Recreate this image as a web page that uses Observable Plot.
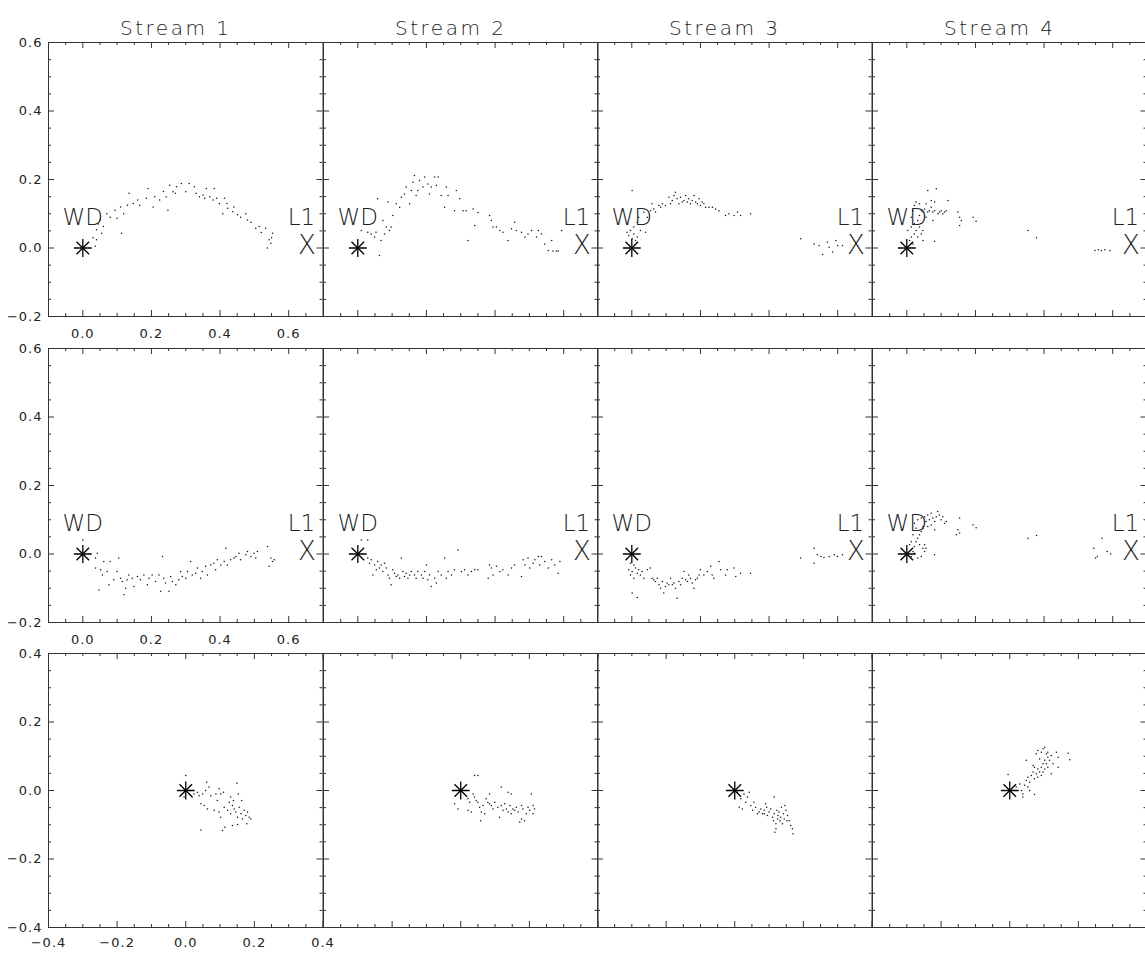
<!DOCTYPE html>
<html><head><meta charset="utf-8">
<script src="https://cdn.jsdelivr.net/npm/d3@7"></script>
<script src="https://cdn.jsdelivr.net/npm/@observablehq/plot@0.6"></script>
<style>
html,body{margin:0;padding:0;background:#fff;}
#chart{position:relative;width:1145px;height:955px;overflow:hidden;background:#fff;}
#chart svg{position:absolute;overflow:visible;}
</style></head><body><div id="chart"></div>
<script>
// ---------- data ----------
const streamTitles = ["Stream 1", "Stream 2", "Stream 3", "Stream 4"];

// Row A (orbital plane view, WD at origin, L1 to the right)
const s1_rowA = [[0.036,0.005],[0.04,0.024],[0.04,0.053],[0.05,0.082],[0.055,0.043],[0.06,0.063],[0.07,0.10],[0.094,0.11],[0.10,0.087],[0.113,0.043],[0.119,0.10],[0.13,0.125],[0.135,0.16],[0.147,0.13],[0.166,0.125],[0.185,0.145],[0.19,0.174],[0.205,0.12],[0.224,0.14],[0.243,0.15],[0.248,0.11],[0.253,0.183],[0.263,0.164],[0.273,0.179],[0.287,0.188],[0.30,0.164],[0.31,0.188],[0.325,0.179],[0.34,0.15],[0.355,0.145],[0.36,0.174],[0.38,0.14],[0.383,0.174],[0.398,0.13],[0.413,0.145],[0.408,0.10],[0.422,0.116],[0.437,0.106],[0.451,0.097],[0.475,0.10],[0.48,0.082],[0.504,0.058],[0.514,0.063],[0.533,0.058],[0.538,0.0],[0.543,0.024],[0.548,0.014],[0.553,0.043],[0.03,0.03],[0.045,0.07],[0.08,0.09],[0.11,0.12],[0.16,0.14],[0.21,0.15],[0.235,0.165],[0.27,0.16],[0.33,0.16],[0.35,0.155],[0.37,0.15],[0.39,0.145],[0.42,0.13],[0.44,0.12],[0.46,0.09],[0.49,0.075],[0.52,0.045],[0.55,0.03]];
const s2_rowA = [[0.01,0.051],[0.029,0.046],[0.039,0.041],[0.049,0.032],[0.053,0.046],[0.063,-0.022],[0.068,0.022],[0.073,0.080],[0.078,0.041],[0.083,0.061],[0.092,0.051],[0.097,0.061],[0.102,0.095],[0.058,0.144],[0.088,0.134],[0.112,0.129],[0.122,0.119],[0.127,0.148],[0.136,0.158],[0.141,0.178],[0.151,0.129],[0.156,0.168],[0.161,0.192],[0.165,0.212],[0.170,0.153],[0.175,0.168],[0.180,0.197],[0.190,0.178],[0.195,0.207],[0.204,0.187],[0.209,0.158],[0.214,0.178],[0.224,0.207],[0.234,0.207],[0.229,0.183],[0.243,0.153],[0.253,0.119],[0.258,0.178],[0.263,0.153],[0.282,0.109],[0.287,0.168],[0.297,0.144],[0.307,0.109],[0.316,0.109],[0.321,0.022],[0.336,0.114],[0.341,0.066],[0.350,0.104],[0.384,0.095],[0.389,0.080],[0.394,0.061],[0.404,0.061],[0.414,0.051],[0.423,0.046],[0.438,0.022],[0.448,0.056],[0.457,0.075],[0.462,0.051],[0.477,0.046],[0.487,0.032],[0.496,0.041],[0.506,0.051],[0.521,0.032],[0.526,0.051],[0.535,0.041],[0.545,0.012],[0.555,-0.007],[0.565,0.022],[0.569,-0.009],[0.579,-0.009],[0.584,-0.009],[0.594,0.051]];
const s3_rowA = [[-0.014,0.046],[-0.009,0.036],[-0.004,0.051],[0.001,0.027],[0.006,0.041],[0.011,0.022],[0.016,0.032],[0.006,0.061],[0.016,0.075],[0.020,0.090],[0.025,0.051],[0.040,0.046],[0.001,0.168],[0.035,0.105],[0.045,0.090],[0.055,0.109],[0.059,0.129],[0.064,0.114],[0.069,0.105],[0.079,0.124],[0.084,0.119],[0.089,0.129],[0.098,0.124],[0.108,0.148],[0.113,0.129],[0.118,0.139],[0.123,0.153],[0.127,0.163],[0.132,0.144],[0.137,0.129],[0.142,0.148],[0.147,0.134],[0.152,0.139],[0.157,0.153],[0.162,0.134],[0.166,0.144],[0.171,0.129],[0.176,0.139],[0.181,0.153],[0.186,0.134],[0.191,0.129],[0.196,0.144],[0.200,0.124],[0.205,0.134],[0.210,0.129],[0.215,0.119],[0.225,0.119],[0.235,0.119],[0.244,0.114],[0.254,0.109],[0.273,0.095],[0.283,0.100],[0.298,0.095],[0.308,0.105],[0.317,0.095],[0.346,0.100],[0.492,0.027],[0.531,0.012],[0.546,0.007],[0.556,-0.019],[0.570,0.017],[0.575,0.002],[0.585,-0.012],[0.595,0.022],[0.600,0.007],[0.614,0.007]];
const s4_rowA = [[0.008,0.022],[0.013,0.032],[0.018,0.012],[0.022,0.041],[0.027,0.051],[0.032,0.032],[0.037,0.061],[0.042,0.041],[0.047,0.022],[0.022,0.071],[0.032,0.080],[0.013,0.090],[0.018,0.109],[0.022,0.124],[0.027,0.134],[0.037,0.129],[0.042,0.109],[0.047,0.105],[0.052,0.114],[0.056,0.129],[0.061,0.105],[0.066,0.109],[0.071,0.119],[0.076,0.105],[0.081,0.109],[0.086,0.173],[0.091,0.100],[0.095,0.105],[0.100,0.109],[0.105,0.100],[0.110,0.105],[0.115,0.109],[0.120,0.139],[0.061,0.168],[0.071,0.139],[0.081,0.134],[0.056,0.090],[0.076,0.080],[0.081,0.020],[0.047,0.051],[0.037,0.095],[0.013,0.061],[0.003,0.051],[0.149,0.105],[0.154,0.090],[0.154,0.066],[0.159,0.080],[0.193,0.090],[0.202,0.078],[0.353,0.051],[0.378,0.030],[0.548,-0.007],[0.558,-0.005],[0.567,-0.007],[0.577,-0.005],[0.592,-0.007]];

// Row B (second projection, WD at origin, L1 to the right)
const s1_rowB = [[0.0,0.041],[0.037,-0.012],[0.042,0.002],[0.037,-0.041],[0.047,-0.105],[0.052,-0.046],[0.057,-0.061],[0.061,-0.022],[0.071,-0.051],[0.076,-0.090],[0.080,-0.022],[0.090,-0.075],[0.100,-0.051],[0.105,-0.012],[0.110,-0.071],[0.115,-0.080],[0.120,-0.119],[0.125,-0.100],[0.129,-0.075],[0.134,-0.061],[0.144,-0.071],[0.149,-0.095],[0.159,-0.066],[0.168,-0.075],[0.178,-0.061],[0.188,-0.090],[0.193,-0.071],[0.202,-0.061],[0.212,-0.080],[0.222,-0.061],[0.227,-0.109],[0.232,-0.007],[0.236,-0.071],[0.241,-0.085],[0.251,-0.109],[0.256,-0.066],[0.261,-0.080],[0.271,-0.090],[0.280,-0.075],[0.285,-0.051],[0.290,-0.066],[0.300,-0.071],[0.305,-0.051],[0.314,-0.022],[0.319,-0.061],[0.329,-0.056],[0.334,-0.041],[0.343,-0.071],[0.348,-0.051],[0.358,-0.036],[0.363,-0.061],[0.373,-0.032],[0.382,-0.027],[0.387,-0.046],[0.392,-0.017],[0.402,-0.032],[0.412,-0.022],[0.417,0.017],[0.421,-0.032],[0.431,-0.017],[0.441,-0.012],[0.446,-0.007],[0.455,0.002],[0.460,-0.017],[0.475,-0.002],[0.480,0.007],[0.490,-0.007],[0.499,0.002],[0.504,-0.012],[0.509,0.007],[0.538,0.022],[0.543,-0.036],[0.548,-0.012],[0.553,-0.022],[0.558,-0.017]];
const s2_rowB = [[0.010,0.041],[0.029,0.041],[0.029,-0.012],[0.034,-0.027],[0.039,-0.017],[0.044,-0.061],[0.049,-0.032],[0.054,-0.046],[0.058,-0.022],[0.063,-0.041],[0.068,-0.032],[0.073,-0.051],[0.078,-0.027],[0.083,-0.041],[0.088,-0.061],[0.092,-0.071],[0.097,-0.090],[0.102,-0.046],[0.107,-0.056],[0.112,-0.066],[0.117,-0.061],[0.122,-0.071],[0.127,-0.012],[0.131,-0.051],[0.136,-0.066],[0.141,-0.056],[0.146,-0.071],[0.151,-0.061],[0.156,-0.051],[0.165,-0.061],[0.170,-0.071],[0.175,-0.051],[0.185,-0.061],[0.190,-0.071],[0.195,-0.051],[0.200,-0.032],[0.204,-0.075],[0.209,-0.061],[0.214,-0.095],[0.224,-0.071],[0.229,-0.085],[0.234,-0.051],[0.243,-0.061],[0.253,-0.012],[0.258,-0.071],[0.263,-0.051],[0.273,-0.061],[0.282,-0.046],[0.292,0.012],[0.302,-0.051],[0.311,-0.046],[0.321,-0.061],[0.331,-0.051],[0.341,-0.046],[0.350,-0.046],[0.380,-0.071],[0.384,-0.032],[0.389,-0.041],[0.394,-0.061],[0.404,-0.036],[0.414,-0.051],[0.423,-0.046],[0.438,-0.061],[0.448,-0.041],[0.457,-0.032],[0.477,-0.066],[0.482,-0.017],[0.487,-0.032],[0.496,-0.012],[0.501,-0.041],[0.511,-0.027],[0.516,-0.017],[0.526,-0.007],[0.530,-0.032],[0.535,-0.007],[0.545,-0.022],[0.555,-0.041],[0.565,-0.017],[0.574,-0.032],[0.584,-0.056],[0.589,-0.022]];
const s3_rowB = [[-0.009,-0.046],[-0.004,-0.061],[0.001,-0.051],[0.006,-0.071],[0.011,-0.041],[0.016,-0.056],[0.020,-0.046],[0.025,-0.061],[0.030,-0.051],[0.035,-0.071],[0.045,-0.046],[0.054,-0.041],[0.059,-0.071],[0.064,-0.075],[0.069,-0.080],[0.074,-0.071],[0.079,-0.090],[0.084,-0.100],[0.089,-0.080],[0.093,-0.114],[0.098,-0.095],[0.103,-0.085],[0.108,-0.090],[0.113,-0.071],[0.118,-0.090],[0.123,-0.085],[0.127,-0.100],[0.132,-0.129],[0.137,-0.080],[0.142,-0.090],[0.147,-0.071],[0.152,-0.051],[0.157,-0.075],[0.162,-0.080],[0.166,-0.061],[0.171,-0.071],[0.176,-0.085],[0.181,-0.100],[0.186,-0.075],[0.191,-0.071],[0.196,-0.061],[0.200,-0.046],[0.210,-0.061],[0.220,-0.051],[0.230,-0.036],[0.234,-0.061],[0.239,-0.071],[0.254,-0.022],[0.259,-0.046],[0.273,-0.061],[0.278,-0.046],[0.298,-0.041],[0.303,-0.066],[0.317,-0.056],[0.346,-0.056],[0.001,-0.114],[0.016,-0.127],[-0.004,-0.027],[0.006,-0.032],[0.492,-0.012],[0.531,0.017],[0.531,-0.027],[0.541,-0.002],[0.551,-0.007],[0.560,-0.010],[0.575,-0.007],[0.590,-0.002],[0.599,-0.007],[0.614,-0.002]];
const s4_rowB = [[0.013,-0.007],[0.018,0.007],[0.022,0.022],[0.027,0.036],[0.032,0.046],[0.037,0.056],[0.042,0.066],[0.047,0.075],[0.037,0.027],[0.047,0.017],[0.052,0.007],[0.042,-0.007],[0.032,-0.012],[0.022,0.002],[0.008,0.027],[0.013,0.036],[0.018,0.056],[0.027,0.075],[0.022,0.090],[0.032,0.100],[0.042,0.105],[0.052,0.109],[0.056,0.095],[0.061,0.114],[0.066,0.100],[0.071,0.119],[0.076,0.105],[0.081,0.095],[0.086,0.109],[0.090,0.124],[0.095,0.114],[0.100,0.100],[0.105,0.109],[0.110,0.090],[0.115,0.095],[0.047,0.080],[0.061,0.080],[0.071,0.085],[0.081,0.071],[0.052,0.027],[0.056,0.017],[0.081,-0.002],[0.154,0.105],[0.149,0.071],[0.154,0.061],[0.144,0.056],[0.193,0.085],[0.202,0.077],[0.353,0.046],[0.378,0.054],[0.545,0.017],[0.550,-0.012],[0.569,0.046],[0.584,0.007],[0.594,0.0],[0.555,-0.007]];

// Row C (third projection, centred on WD)
const s1_rowC = [[0.0,0.044],[-0.005,-0.019],[0.019,-0.019],[0.024,-0.010],[0.034,-0.005],[0.039,-0.015],[0.044,-0.039],[0.044,-0.115],[0.049,-0.010],[0.054,-0.044],[0.058,0.0],[0.061,0.024],[0.063,-0.054],[0.068,0.010],[0.073,-0.015],[0.083,-0.058],[0.088,-0.010],[0.092,-0.029],[0.097,0.005],[0.097,-0.063],[0.102,-0.010],[0.102,-0.078],[0.107,-0.117],[0.110,-0.005],[0.112,-0.049],[0.114,-0.107],[0.122,-0.058],[0.127,-0.034],[0.131,-0.019],[0.131,-0.068],[0.136,-0.044],[0.136,-0.102],[0.139,-0.029],[0.141,-0.054],[0.146,-0.063],[0.149,0.021],[0.151,-0.078],[0.153,-0.010],[0.156,-0.049],[0.161,-0.068],[0.163,-0.029],[0.165,-0.083],[0.170,-0.058],[0.175,-0.073],[0.180,-0.063],[0.185,-0.078],[0.190,-0.083],[0.151,-0.099],[0.178,-0.097]];
const s2_rowC = [[-0.018,-0.039],[-0.008,-0.054],[0.021,-0.024],[0.021,-0.058],[0.026,-0.034],[0.031,-0.063],[0.036,-0.010],[0.040,-0.019],[0.040,0.044],[0.045,-0.029],[0.050,0.044],[0.050,-0.034],[0.055,-0.049],[0.058,-0.088],[0.060,-0.063],[0.065,-0.044],[0.070,-0.068],[0.074,-0.024],[0.079,-0.034],[0.084,-0.010],[0.084,-0.039],[0.089,-0.044],[0.094,-0.054],[0.099,-0.034],[0.108,-0.049],[0.113,-0.078],[0.118,0.010],[0.118,-0.044],[0.123,-0.058],[0.128,-0.039],[0.133,-0.054],[0.138,-0.005],[0.138,-0.063],[0.143,-0.044],[0.147,-0.010],[0.147,-0.068],[0.152,-0.054],[0.157,-0.058],[0.162,-0.049],[0.167,-0.063],[0.172,-0.092],[0.177,-0.044],[0.177,-0.083],[0.181,-0.054],[0.186,-0.088],[0.191,-0.068],[0.196,-0.049],[0.201,-0.058],[0.206,-0.010],[0.211,-0.044],[0.211,-0.068],[0.215,-0.054]];
const s3_rowC = [[0.008,-0.005],[0.018,-0.024],[0.027,-0.010],[0.032,-0.034],[0.037,-0.019],[0.042,-0.005],[0.013,-0.049],[0.022,-0.054],[0.047,-0.044],[0.052,-0.058],[0.056,-0.034],[0.061,-0.049],[0.071,-0.063],[0.076,-0.054],[0.081,-0.068],[0.086,-0.058],[0.090,-0.039],[0.093,-0.049],[0.095,-0.073],[0.100,-0.063],[0.105,-0.054],[0.110,-0.078],[0.113,-0.088],[0.115,-0.019],[0.115,-0.068],[0.117,-0.122],[0.120,-0.097],[0.123,-0.058],[0.125,-0.083],[0.126,-0.073],[0.129,-0.063],[0.132,-0.088],[0.134,-0.078],[0.136,-0.049],[0.139,-0.097],[0.142,-0.068],[0.144,-0.083],[0.146,-0.044],[0.149,-0.058],[0.152,-0.088],[0.154,-0.073],[0.159,-0.088],[0.163,-0.102],[0.168,-0.112],[0.170,-0.126],[0.120,-0.112],[0.086,-0.068],[0.066,-0.068]];
const s4_rowC = [[-0.005,0.047],[0.019,0.010],[0.029,0.019],[0.034,0.0],[0.038,-0.010],[0.038,-0.019],[0.043,0.015],[0.048,0.029],[0.053,0.010],[0.053,0.039],[0.058,0.024],[0.063,0.044],[0.068,0.054],[0.072,0.034],[0.072,-0.012],[0.077,0.049],[0.082,0.063],[0.082,0.039],[0.087,0.054],[0.092,0.068],[0.092,0.044],[0.097,0.078],[0.097,0.054],[0.102,0.088],[0.102,0.063],[0.107,0.107],[0.107,0.078],[0.111,0.097],[0.111,0.068],[0.116,0.088],[0.121,0.102],[0.121,0.049],[0.126,0.078],[0.077,0.107],[0.082,0.117],[0.092,0.112],[0.097,0.122],[0.102,0.126],[0.136,0.112],[0.141,0.097],[0.141,0.068],[0.048,0.088],[0.068,0.073],[0.170,0.109],[0.175,0.090],[0.058,0.0],[0.072,0.068],[0.087,0.092],[0.111,0.112]];

const panelData = [
  [s1_rowA, s2_rowA, s3_rowA, s4_rowA],
  [s1_rowB, s2_rowB, s3_rowB, s4_rowB],
  [s1_rowC, s2_rowC, s3_rowC, s4_rowC]
];

// marker positions (white dwarf and inner Lagrangian point)
const wdPoint = [[0, 0]];
const nameLabels = [{x: 0, y: 0.066, text: "WD"}, {x: 0.637, y: 0.066, text: "L1"}];
const l1Marker = [{x: 0.653, y: 0.008, text: "X"}];

// axis domains and ticks
const domainAB_x = [-0.1, 0.7], domainAB_y = [-0.2, 0.6];
const domainC = [-0.4, 0.4];
const xMajorAB = [0, 0.2, 0.4, 0.6];
const xMinorAB = [-0.05, 0.05, 0.1, 0.15, 0.25, 0.3, 0.35, 0.45, 0.5, 0.55, 0.65];
const yMajorAB = [-0.2, 0, 0.2, 0.4, 0.6];
const yMinorAB = [-0.15, -0.1, -0.05, 0.05, 0.1, 0.15, 0.25, 0.3, 0.35, 0.45, 0.5, 0.55];
const majorC = [-0.4, -0.2, 0, 0.2, 0.4];
const minorC = [-0.35, -0.3, -0.25, -0.15, -0.1, -0.05, 0.05, 0.1, 0.15, 0.25, 0.3, 0.35];

// ---------- layout ----------
const W = 274.5, H = 274;
const left0 = 48;
const rowTops = [42, 347.5, 653];
const ink = "#222", frameInk = "#333";
const fmt = d => d3.format(".1f")(d);
const chart = document.getElementById("chart");

function tickRules(xMaj, xMin, yMaj, yMin) {
  const s = {stroke: frameInk, strokeWidth: 1};
  return [
    Plot.ruleX(xMaj, {x: d => d, insetBottom: H - 6, ...s}),
    Plot.ruleX(xMaj, {x: d => d, insetTop: H - 6, ...s}),
    Plot.ruleX(xMin, {x: d => d, insetBottom: H - 3, ...s}),
    Plot.ruleX(xMin, {x: d => d, insetTop: H - 3, ...s}),
    Plot.ruleY(yMaj, {y: d => d, insetRight: W - 6, ...s}),
    Plot.ruleY(yMaj, {y: d => d, insetLeft: W - 6, ...s}),
    Plot.ruleY(yMin, {y: d => d, insetRight: W - 3, ...s}),
    Plot.ruleY(yMin, {y: d => d, insetLeft: W - 3, ...s})
  ];
}

for (let r = 0; r < 3; r++) {
  for (let c = 0; c < 4; c++) {
    const isC = r === 2;
    const xd = isC ? domainC : domainAB_x;
    const yd = isC ? domainC : domainAB_y;
    const xMaj = isC ? majorC : xMajorAB, xMin = isC ? minorC : xMinorAB;
    const yMaj = isC ? majorC : yMajorAB, yMin = isC ? minorC : yMinorAB;
    const mL = 50, mR = 12, mT = r === 0 ? 42 : 12, mB = 30;
    const marks = [
      ...tickRules(xMaj, xMin, yMaj, yMin),
      Plot.frame({stroke: frameInk, strokeWidth: 1}),
      Plot.dot(panelData[r][c], {x: d => d[0], y: d => d[1], r: 0.75, fill: "#111", stroke: null}),
      Plot.dot(wdPoint, {x: d => d[0], y: d => d[1], symbol: "plus", r: 5.8, stroke: "#000", strokeWidth: 1.3}),
      Plot.dot(wdPoint, {x: d => d[0], y: d => d[1], symbol: "times", r: 5.8, stroke: "#000", strokeWidth: 1.3})
    ];
    if (!isC) {
      marks.push(Plot.text(nameLabels, {x: "x", y: "y", text: "text", textAnchor: "middle", lineAnchor: "bottom", fontSize: 23, fontWeight: 200, fill: ink}));
      marks.push(Plot.text(l1Marker, {x: "x", y: "y", text: "text", textAnchor: "middle", lineAnchor: "middle", fontSize: 26, fontWeight: 200, fill: ink}));
    }
    if (r === 0) {
      marks.push(Plot.text([streamTitles[c]], {frameAnchor: "top", dy: -22, dx: -10, text: d => d, fontSize: 20, fontWeight: 200, fill: ink}));
    }
    if (c === 0) {
      marks.push(Plot.axisY({ticks: yMaj, label: null, tickSize: 0, tickPadding: 6, tickFormat: fmt, fontSize: 13, fill: ink}));
      marks.push(Plot.axisX({ticks: xMaj, label: null, anchor: "bottom", tickSize: 0, tickPadding: isC ? 10 : 12, tickFormat: fmt, fontSize: 13, fill: ink}));
    }
    const svg = Plot.plot({
      width: mL + W + mR, height: mT + H + mB,
      marginLeft: mL, marginRight: mR, marginTop: mT, marginBottom: mB,
      x: {domain: xd, axis: null},
      y: {domain: yd, axis: null},
      style: {background: "transparent", overflow: "visible", fontFamily: "DejaVu Sans, sans-serif", fontSize: "13px", color: ink},
      marks
    });
    svg.style.left = (left0 + c * W - mL) + "px";
    svg.style.top = (rowTops[r] - mT) + "px";
    // letter spacing to mimic the wide plotting font of the original
    svg.querySelectorAll("text").forEach(t => {
      const s = t.textContent;
      if (s.startsWith("Stream")) t.style.letterSpacing = "2.5px";
      else if (/^[−\-]?\d/.test(s)) t.style.letterSpacing = "1px";
    });
    chart.appendChild(svg);
  }
}
</script></body></html>
